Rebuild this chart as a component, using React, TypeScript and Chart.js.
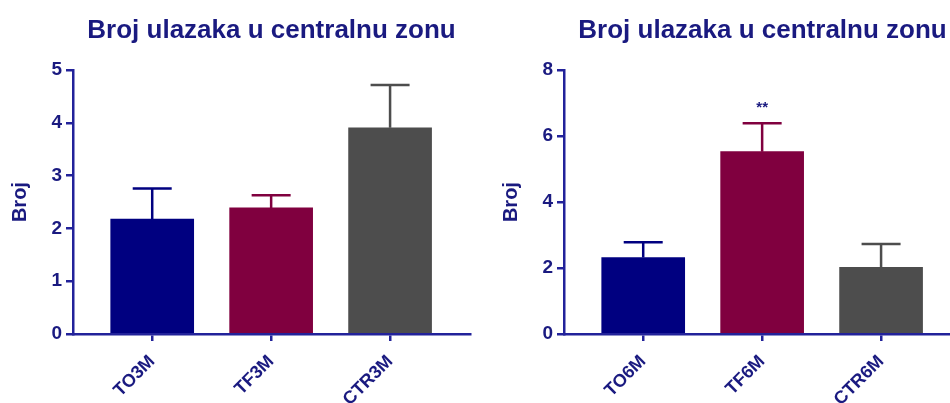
import React, { useEffect, useRef } from "react";
import { Chart, registerables } from "chart.js";

Chart.register(...registerables);

const TITLE = "Broj ulazaka u centralnu zonu";
const Y_LABEL = "Broj";

const categories3M = ["TO3M", "TF3M", "CTR3M"];
const means3M = [2.18, 2.39, 3.91];
const sem3M = [0.58, 0.24, 0.81];
const marks3M = ["", "", ""];
const yTicks3M = { max: 5, step: 1 };

const categories6M = ["TO6M", "TF6M", "CTR6M"];
const means6M = [2.32, 5.53, 2.02];
const sem6M = [0.46, 0.86, 0.71];
const marks6M = ["", "**", ""];
const yTicks6M = { max: 8, step: 2 };

const barColors = ["#000080", "#80003f", "#4d4d4d"];
const TEXT = "#1a1a80";
const AXIS = "#22229a";
const FONT = "'Liberation Sans', Arial, sans-serif";

function makeErrorPlugin(sem: number[], marks: string[]) {
  return {
    id: "errorBars",
    afterDatasetsDraw(chart: any) {
      const ctx = chart.ctx;
      const meta = chart.getDatasetMeta(0);
      const ys = chart.scales.y;
      const ds = chart.data.datasets[0];
      meta.data.forEach((bar: any, i: number) => {
        const v = ds.data[i].y;
        const x = bar.x;
        const yBar = ys.getPixelForValue(v);
        const yTop = ys.getPixelForValue(v + sem[i]);
        ctx.save();
        ctx.strokeStyle = barColors[i];
        ctx.lineWidth = 2.5;
        ctx.beginPath();
        ctx.moveTo(x, yBar);
        ctx.lineTo(x, yTop);
        ctx.moveTo(x - 19.5, yTop);
        ctx.lineTo(x + 19.5, yTop);
        ctx.stroke();
        if (marks[i]) {
          ctx.fillStyle = TEXT;
          ctx.font = `bold 15px ${FONT}`;
          ctx.textAlign = "center";
          ctx.textBaseline = "middle";
          ctx.fillText(marks[i], x, yTop - 15);
        }
        ctx.restore();
      });
    },
  };
}

function BarPanel(props: {
  categories: string[];
  means: number[];
  sem: number[];
  marks: string[];
  yMax: number;
  yStep: number;
  left: number;
}) {
  const ref = useRef<HTMLCanvasElement | null>(null);
  useEffect(() => {
    if (!ref.current) return;
    const { categories, means, sem, marks, yMax, yStep } = props;
    const chart = new Chart(ref.current, {
      type: "bar",
      data: {
        datasets: [
          {
            data: means.map((m, i) => ({ x: i + 1, y: m })),
            backgroundColor: barColors,
            borderWidth: 0,
            barThickness: 83,
          } as any,
        ],
      },
      options: {
        animation: false,
        responsive: true,
        maintainAspectRatio: false,
        layout: { padding: { top: 0, left: 0, right: 21, bottom: 0 } },
        plugins: {
          legend: { display: false },
          tooltip: { enabled: false },
          title: {
            display: true,
            text: TITLE,
            fullSize: false,
            color: TEXT,
            font: { family: FONT, size: 26, weight: "bold" },
            padding: { top: 15, bottom: 24 },
          },
        },
        scales: {
          x: {
            type: "linear",
            offset: false,
            min: 0.334,
            max: 3.672,
            afterBuildTicks: (scale: any) => {
              scale.ticks = categories.map((_, i) => ({ value: i + 1 }));
            },
            afterFit: (scale: any) => {
              scale.height = 69;
            },
            grid: {
              display: true,
              offset: false,
              drawOnChartArea: false,
              drawTicks: true,
              tickLength: 7,
              color: AXIS,
              lineWidth: 2.5,
            },
            border: { display: true, color: AXIS, width: 2.5 },
            ticks: {
              autoSkip: false,
              maxRotation: 45,
              minRotation: 45,
              padding: 10,
              color: TEXT,
              font: { family: FONT, size: 18, weight: "bold" },
              callback: (v: any) => categories[Number(v) - 1] ?? "",
            },
          },
          y: {
            type: "linear",
            min: 0,
            max: yMax,
            afterFit: (scale: any) => {
              scale.width = 73;
            },
            grid: {
              display: true,
              drawOnChartArea: false,
              drawTicks: true,
              tickLength: 7,
              color: AXIS,
              lineWidth: 2.5,
            },
            border: { display: true, color: AXIS, width: 2.5 },
            ticks: {
              stepSize: yStep,
              padding: 4,
              color: TEXT,
              font: { family: FONT, size: 19, weight: "bold" },
            },
            title: {
              display: true,
              text: Y_LABEL,
              color: TEXT,
              font: { family: FONT, size: 20, weight: "bold" },
              padding: { top: 8, bottom: 0 },
            },
          },
        },
      } as any,
      plugins: [makeErrorPlugin(sem, marks)],
    });
    return () => chart.destroy();
  }, []);
  return (
    <div
      style={{
        position: "absolute",
        left: props.left,
        top: 0,
        width: 491,
        height: 403,
      }}
    >
      <canvas ref={ref} />
    </div>
  );
}

export default function App() {
  return (
    <div
      style={{
        position: "absolute",
        left: 0,
        top: 0,
        width: 950,
        height: 403,
        overflow: "hidden",
        background: "#ffffff",
      }}
    >
      <BarPanel
        categories={categories3M}
        means={means3M}
        sem={sem3M}
        marks={marks3M}
        yMax={yTicks3M.max}
        yStep={yTicks3M.step}
        left={0}
      />
      <BarPanel
        categories={categories6M}
        means={means6M}
        sem={sem6M}
        marks={marks6M}
        yMax={yTicks6M.max}
        yStep={yTicks6M.step}
        left={491}
      />
    </div>
  );
}
